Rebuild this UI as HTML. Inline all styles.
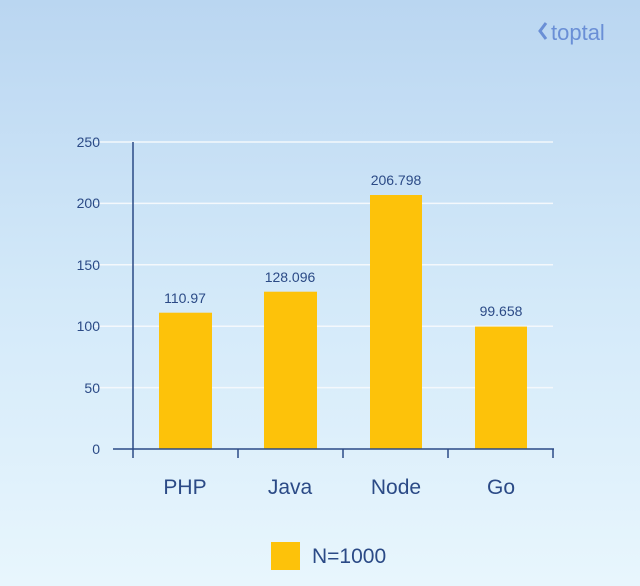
<!DOCTYPE html><html style="margin:0;height:586px;overflow:hidden;background:#e8f6fd"><head><style>
body{margin:0;width:640px;height:586px;overflow:hidden;background:linear-gradient(#bad6f1,#d3e9f9 50%,#e8f6fd);font-family:"Liberation Sans",sans-serif}
svg{display:block}
</style></head><body>
<svg width="640" height="586" xmlns="http://www.w3.org/2000/svg" font-family="Liberation Sans, sans-serif">
<g stroke="#f4f8fc" stroke-width="1.5">
<line x1="93" y1="142" x2="553" y2="142"/><line x1="93" y1="203.4" x2="553" y2="203.4"/><line x1="93" y1="264.8" x2="553" y2="264.8"/><line x1="93" y1="326.2" x2="553" y2="326.2"/><line x1="93" y1="387.6" x2="553" y2="387.6"/></g>
<g fill="#fdc20a">
<rect x="159" y="312.7" width="53" height="136.3"/>
<rect x="264" y="291.7" width="53" height="157.3"/>
<rect x="370" y="195" width="52" height="254"/>
<rect x="475" y="326.6" width="52" height="122.4"/>
<rect x="271" y="542" width="29" height="28"/></g>
<g stroke="#2b4a86" stroke-width="1.5" fill="none">
<line x1="133" y1="142" x2="133" y2="458"/><line x1="113" y1="449" x2="554" y2="449"/>
<line x1="238" y1="449" x2="238" y2="458"/><line x1="343" y1="449" x2="343" y2="458"/><line x1="448" y1="449" x2="448" y2="458"/><line x1="553" y1="449" x2="553" y2="458"/></g>
<g fill="#2b4a86" font-size="14" text-anchor="end">
<text x="100" y="147">250</text><text x="100" y="208">200</text><text x="100" y="270">150</text><text x="100" y="331">100</text><text x="100" y="393">50</text><text x="100" y="454">0</text></g>
<g fill="#2b4a86" font-size="14" text-anchor="middle">
<text x="185" y="303">110.97</text><text x="290" y="282">128.096</text><text x="396" y="185">206.798</text><text x="501" y="316">99.658</text></g>
<g fill="#2b4a86" font-size="21" text-anchor="middle">
<text x="185" y="494">PHP</text><text x="290" y="494">Java</text><text x="396" y="494">Node</text><text x="501" y="494">Go</text></g>
<text x="312" y="563" fill="#2b4a86" font-size="21">N=1000</text>
<path d="M546 23 L540 31 L546 39" stroke="#6a8fd6" stroke-width="3" fill="none"/>
<text x="551" y="40" fill="#6a8fd6" font-size="22">toptal</text>
</svg></body></html>
